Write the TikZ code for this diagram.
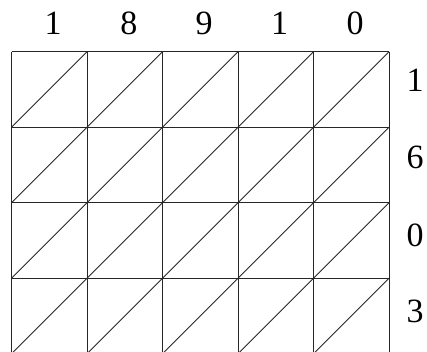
\documentclass[tikz,border=0pt]{standalone}
\usepackage{fontspec}
\setmainfont{Liberation Serif}
\begin{document}
\begin{tikzpicture}[x=1pt,y=-1pt,
  gridline/.style={line width=0.8pt,draw=black!85},
  digit/.style={font=\fontsize{34}{34}\selectfont,inner sep=0pt,anchor=base}]
\useasboundingbox (0,0) rectangle (427,352);
\clip (0,0) rectangle (427,352);
\def\gx{11.5}\def\gy{51.7}\def\cs{75.5}
% grid
\foreach \i in {0,...,5}{
  \draw[gridline] (\gx+\i*\cs,\gy) -- (\gx+\i*\cs,\gy+4*\cs);}
\foreach \j in {0,...,4}{
  \draw[gridline] (\gx,\gy+\j*\cs) -- (\gx+5*\cs,\gy+\j*\cs);}
% diagonals
\foreach \i in {0,...,4}{
  \foreach \j in {0,...,3}{
    \draw[gridline] (\gx+\i*\cs,\gy+\j*\cs+\cs) -- (\gx+\i*\cs+\cs,\gy+\j*\cs);}}
% top digits
\node[digit] (t1) at (53,34.3) {1};
\node[digit] (t2) at (128.8,34.3) {8};
\node[digit] (t3) at (204,34.3) {9};
\node[digit] (t4) at (279.5,34.3) {1};
\node[digit] (t5) at (355,34.3) {0};
% right digits
\node[digit] (r1) at (415,92) {1};
\node[digit] (r2) at (415,169) {6};
\node[digit] (r3) at (415,246) {0};
\node[digit] (r4) at (415,322.5) {3};
\end{tikzpicture}
\end{document}
